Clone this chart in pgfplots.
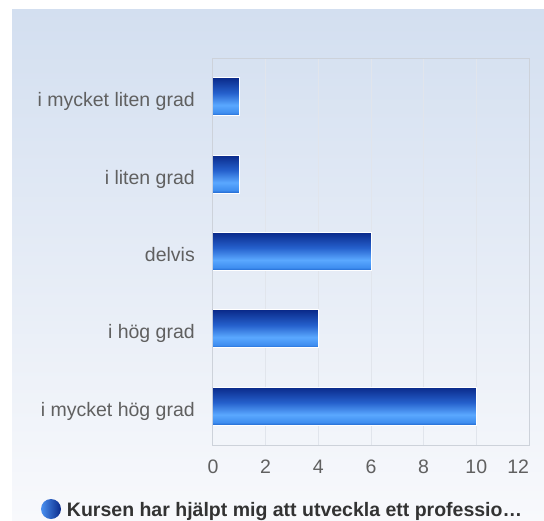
\documentclass[border=0pt]{standalone}
\usepackage{pgfplots}
\pgfplotsset{compat=1.18}
\usepackage{fontspec}
\setmainfont{Liberation Sans}
\definecolor{panTop}{HTML}{D3DFF0}
\definecolor{panBot}{HTML}{F8F9FC}
\definecolor{gridc}{HTML}{E1E5EC}
\definecolor{framec}{HTML}{CDD2DA}
\definecolor{labc}{HTML}{606060}
\definecolor{legc}{HTML}{333333}
\definecolor{bA}{HTML}{1E64CC}
\definecolor{bB}{HTML}{3F8EF0}
\definecolor{bC}{HTML}{5AA8FF}
\definecolor{bD}{HTML}{2560CC}
\definecolor{bE}{HTML}{0A2A8A}
\definecolor{cL}{HTML}{4A90F0}
\definecolor{cR}{HTML}{0A2A8A}
\pgfdeclareverticalshading{barshade}{100bp}{color(0bp)=(bA); color(25bp)=(bA); color(29bp)=(bB); color(39bp)=(bC); color(55bp)=(bD); color(75bp)=(bE); color(100bp)=(bE)}
\begin{document}
\begin{tikzpicture}[x=1pt,y=1pt]
\useasboundingbox (0,0) rectangle (544,520);
\fill[white] (0,0) rectangle (544,520);
\shade[top color=panTop, bottom color=panBot] (12,0) rectangle (544,510);
\begin{axis}[
  at={(213pt,75pt)}, anchor=south west,
  scale only axis, width=316pt, height=387pt,
  xmin=0, xmax=12, ymin=-0.5, ymax=4.5,
  xtick={0,2,...,12}, ytick={0,1,2,3,4},
  xticklabels={0,2,4,6,8,10,\makebox[0pt][r]{12}},
  yticklabels={i mycket hög grad, i hög grad, delvis, i liten grad, i mycket liten grad},
  major tick length=0pt,
  xmajorgrids, major grid style={draw=gridc, line width=1pt},
  axis line style={draw=framec, line width=1pt},
  /pgf/number format/assume math mode=true,
  tick label style={font=\fontsize{19.5}{22}\selectfont, text=labc},
  xticklabel style={anchor=base, inner sep=0pt, yshift=-28pt},
  yticklabel style={anchor=base east, inner sep=0pt, xshift=-18pt, yshift=-10pt},
  legend style={at={(rel axis cs:-0.5443,-0.1654)}, anchor=west, draw=none, fill=none,
    inner sep=0pt, outer sep=0pt, column sep=6pt,
    nodes={inner sep=0pt, font=\bfseries\fontsize{19.5}{22}\selectfont, text=legc}},
  legend image code/.code={\shade[draw=none, left color=cL, right color=cR] (10.5pt,1pt) circle (10pt);},
  barstyle/.style={xbar, bar width=38pt, bar shift=0pt, draw=white, line width=1pt, shading=barshade, mark=none},
]
\addplot[barstyle] coordinates {(10,0)};
\addlegendentry{Kursen har hjälpt mig att utveckla ett professio…}
\addplot[barstyle, forget plot] coordinates {(4,1)};
\addplot[barstyle, forget plot] coordinates {(6,2)};
\addplot[barstyle, forget plot] coordinates {(1,3)};
\addplot[barstyle, forget plot] coordinates {(1,4)};
\end{axis}
\end{tikzpicture}
\end{document}
